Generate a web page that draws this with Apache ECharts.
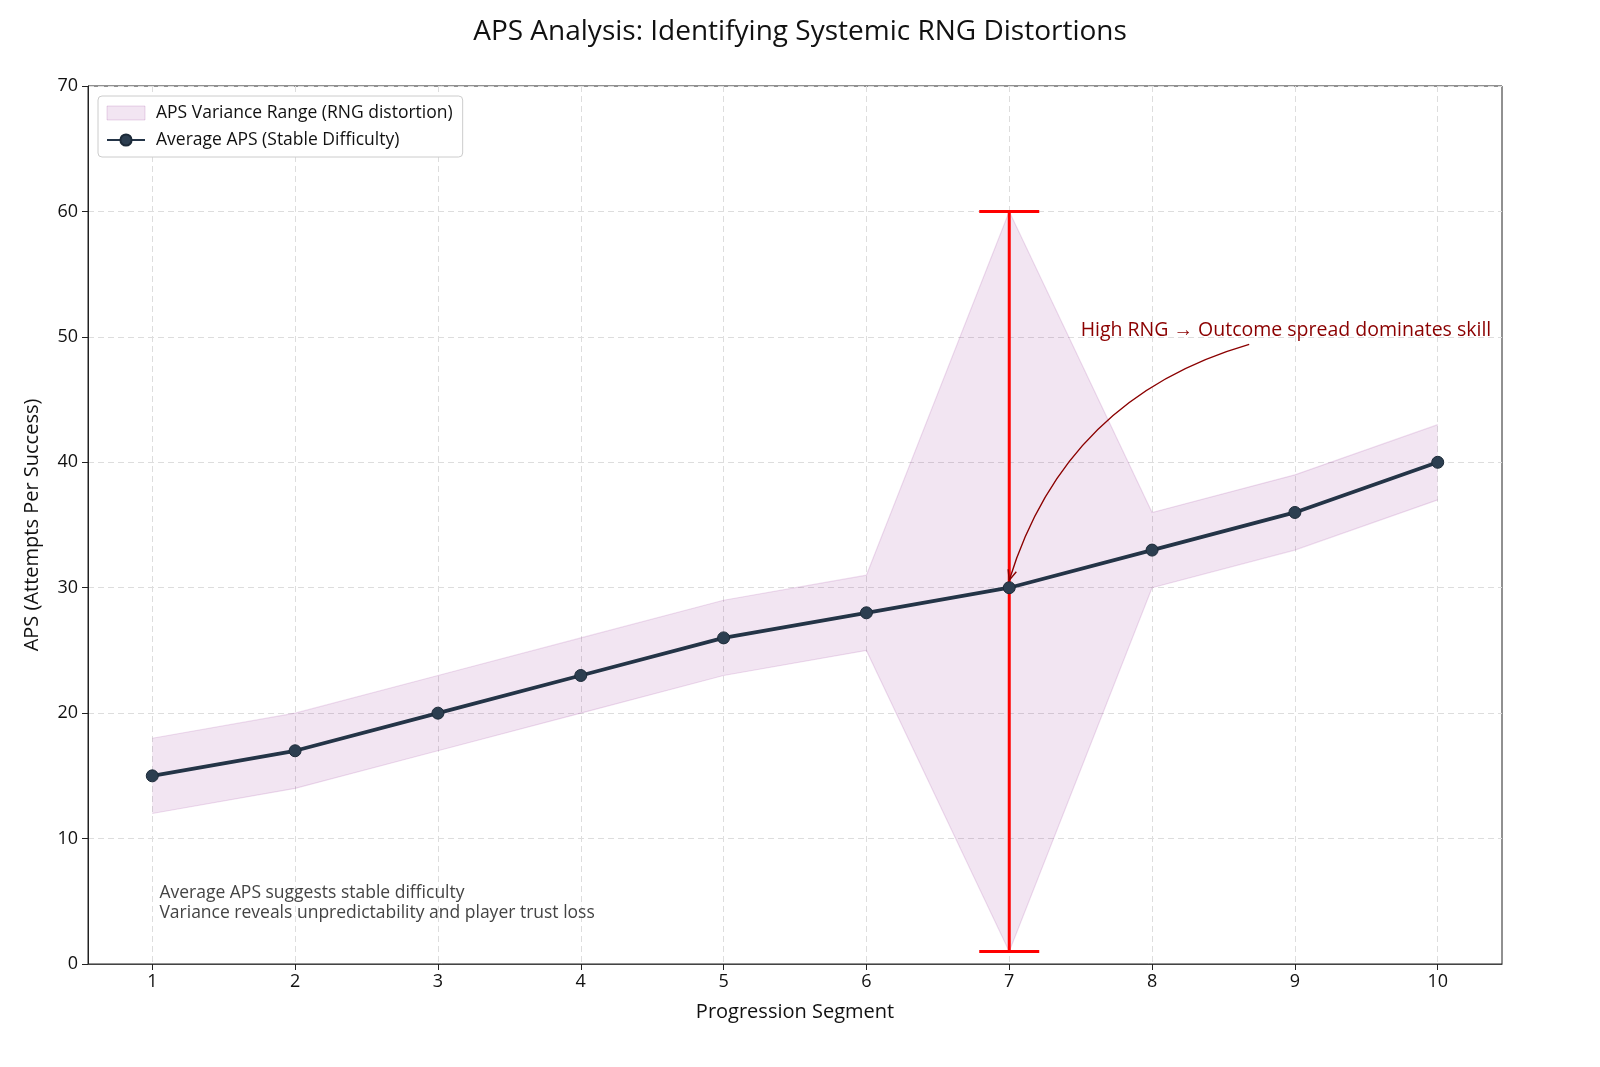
<!DOCTYPE html>
<html>
<head>
    <meta charset="utf-8">
    <title>APS Analysis</title>
    <script src="https://cdn.jsdelivr.net/npm/echarts@6/dist/echarts.min.js"></script>
    <style>
        html, body { margin: 0; padding: 0; background: #fff; overflow: hidden; }
        #chart { width: 100vw; height: 100vh; }
    </style>
</head>
<body>
    <div id="chart"></div>
    <script type="text/javascript">
        // values
        const segments = [1, 2, 3, 4, 5, 6, 7, 8, 9, 10];
        const avgAPS   = [15, 17, 20, 23, 26, 28, 30, 33, 36, 40];
        const upperAPS = [18, 20, 23, 26, 29, 31, 60, 36, 39, 43];
        const lowerAPS = [12, 14, 17, 20, 23, 25, 1, 30, 33, 37];
        // red error bar on segment 7
        const errSegment = [7];
        const errLow = [1];
        const errHigh = [60];

        const FONT = '"Open Sans"';
        const BAND_NAME = 'APS Variance Range (RNG distortion)';
        const LINE_NAME = 'Average APS (Stable Difficulty)';

        let chartDom = document.getElementById('chart');
        let myChart = echarts.init(chartDom);

        let option = {
            animation: false,
            textStyle: { fontFamily: FONT },
            title: {
                text: 'APS Analysis: Identifying Systemic RNG Distortions',
                left: 'center',
                top: 13,
                textStyle: { fontSize: 28, fontWeight: 'normal', color: '#111', fontFamily: FONT }
            },
            legend: {
                orient: 'vertical',
                left: 98,
                top: 96,
                padding: [8, 10, 8, 8],
                itemGap: 9,
                itemWidth: 38,
                itemHeight: 14,
                backgroundColor: '#fff',
                borderColor: '#cccccc',
                borderWidth: 1,
                borderRadius: 4,
                textStyle: { fontSize: 17.5, color: '#111', fontFamily: FONT, padding: [0, 0, 0, 6] },
                data: [
                    { name: BAND_NAME, icon: 'rect',
                      itemStyle: { color: 'rgba(128,0,128,0.1)', borderColor: 'rgba(128,0,128,0.15)', borderWidth: 1 } },
                    { name: LINE_NAME }
                ]
            },
            grid: {
                left: 88, right: 98, top: 86, bottom: 103,
                show: true, borderColor: '#222', borderWidth: 1,
                containLabel: false
            },
            xAxis: {
                type: 'value',
                min: 0.55,
                max: 10.45,
                name: 'Progression Segment',
                nameLocation: 'middle',
                nameGap: 38,
                nameTextStyle: { fontSize: 20, color: '#111' },
                axisLine: { show: true, onZero: false, lineStyle: { color: '#444', width: 1.2 } },
                axisTick: { show: true, length: 6, customValues: segments, lineStyle: { color: '#222' } },
                axisLabel: { customValues: segments, fontSize: 18, color: '#111', margin: 9 },
                splitLine: { show: true, lineStyle: { color: '#dddddd', type: [6, 4] } }
            },
            yAxis: {
                type: 'value',
                min: 0,
                max: 70,
                interval: 10,
                name: 'APS (Attempts Per Success)',
                nameLocation: 'middle',
                nameGap: 46,
                nameTextStyle: { fontSize: 20, color: '#111' },
                axisLine: { show: true, lineStyle: { color: '#222' } },
                axisTick: { show: true, length: 6, lineStyle: { color: '#222' } },
                axisLabel: { fontSize: 18, color: '#111', margin: 10 },
                splitLine: { show: true, lineStyle: { color: '#dddddd', type: [6, 4] } }
            },
            series: [
                {
                    name: BAND_NAME,
                    type: 'custom',
                    z: 1,
                    silent: true,
                    itemStyle: { color: 'rgba(128,0,128,0.1)' },
                    data: segments.map((x, i) => [x, lowerAPS[i], upperAPS[i]]),
                    renderItem: function (params, api) {
                        if (params.dataIndex !== 0) return null;
                        const n = params.dataInsideLength;
                        const top = [], bottom = [];
                        for (let i = 0; i < n; i++) {
                            const x = api.value(0, i);
                            top.push(api.coord([x, api.value(2, i)]));
                            bottom.push(api.coord([x, api.value(1, i)]));
                        }
                        const poly = top.concat(bottom.slice().reverse());
                        const edge = { stroke: 'rgba(128,0,128,0.13)', lineWidth: 1.2, fill: null };
                        return {
                            type: 'group',
                            children: [
                                { type: 'polygon', shape: { points: poly }, style: { fill: 'rgba(128,0,128,0.1)' } },
                                { type: 'polyline', shape: { points: top }, style: edge },
                                { type: 'polyline', shape: { points: bottom }, style: edge }
                            ]
                        };
                    }
                },
                {
                    name: 'error',
                    type: 'custom',
                    z: 3,
                    silent: true,
                    data: errSegment.map((x, i) => [x, errLow[i], errHigh[i]]),
                    renderItem: function (params, api) {
                        const lo = api.coord([api.value(0), api.value(1)]);
                        const hi = api.coord([api.value(0), api.value(2)]);
                        const cap = 30;
                        const st = { stroke: '#ff0000', lineWidth: 3 };
                        return {
                            type: 'group',
                            children: [
                                { type: 'line', shape: { x1: lo[0], y1: lo[1], x2: hi[0], y2: hi[1] }, style: st },
                                { type: 'line', shape: { x1: lo[0] - cap, y1: lo[1], x2: lo[0] + cap, y2: lo[1] }, style: st },
                                { type: 'line', shape: { x1: hi[0] - cap, y1: hi[1], x2: hi[0] + cap, y2: hi[1] }, style: st }
                            ]
                        };
                    }
                },
                {
                    name: LINE_NAME,
                    type: 'line',
                    z: 5,
                    symbol: 'circle',
                    symbolSize: 12,
                    color: '#243447',
                    lineStyle: { color: '#243447', width: 3.8 },
                    itemStyle: { color: '#2c3e50', borderColor: '#1c2a38', borderWidth: 1 },
                    data: segments.map((x, i) => [x, avgAPS[i]])
                }
            ]
        };

        myChart.setOption(option);

        // annotation: text + curved arrow, anchored in data coordinates
        const textPos = myChart.convertToPixel({ gridIndex: 0 }, [7.5, 50.5]);
        const arrowFrom = myChart.convertToPixel({ gridIndex: 0 }, [8.68, 49.4]);
        const arrowTo = myChart.convertToPixel({ gridIndex: 0 }, [7, 30.6]);
        const k = 0.27;
        const dx = arrowTo[0] - arrowFrom[0], dy = arrowTo[1] - arrowFrom[1];
        const mx = (arrowFrom[0] + arrowTo[0]) / 2, my = (arrowFrom[1] + arrowTo[1]) / 2;
        const cpx = mx - k * dy, cpy = my + k * dx;
        // arrow head along the end tangent
        const ang = Math.atan2(arrowTo[1] - cpy, arrowTo[0] - cpx);
        const headLen = 11, headAng = 0.4;
        const h1 = [arrowTo[0] - headLen * Math.cos(ang - headAng), arrowTo[1] - headLen * Math.sin(ang - headAng)];
        const h2 = [arrowTo[0] - headLen * Math.cos(ang + headAng), arrowTo[1] - headLen * Math.sin(ang + headAng)];

        const noteLeft = myChart.convertToPixel({ gridIndex: 0 }, [1.05, 0])[0];

        myChart.setOption({
            graphic: [
                {
                    type: 'text', z: 10,
                    x: textPos[0], y: textPos[1],
                    style: { text: 'High RNG \u2192 Outcome spread dominates skill', fill: '#8b0000',
                             font: '19.5px ' + FONT, verticalAlign: 'middle', align: 'left' }
                },
                {
                    type: 'bezierCurve', z: 10,
                    shape: { x1: arrowFrom[0], y1: arrowFrom[1], x2: arrowTo[0], y2: arrowTo[1], cpx1: cpx, cpy1: cpy },
                    style: { stroke: '#8b0000', lineWidth: 1.4, fill: null }
                },
                {
                    type: 'polyline', z: 10,
                    shape: { points: [h1, arrowTo, h2] },
                    style: { stroke: '#8b0000', lineWidth: 1.4, fill: null }
                },
                {
                    type: 'text', z: 10,
                    x: noteLeft, y: 923,
                    style: { text: 'Average APS suggests stable difficulty\nVariance reveals unpredictability and player trust loss',
                             fill: '#444', font: '17.5px ' + FONT, lineHeight: 20, verticalAlign: 'bottom', align: 'left' }
                }
            ]
        });
    </script>
</body>
</html>
